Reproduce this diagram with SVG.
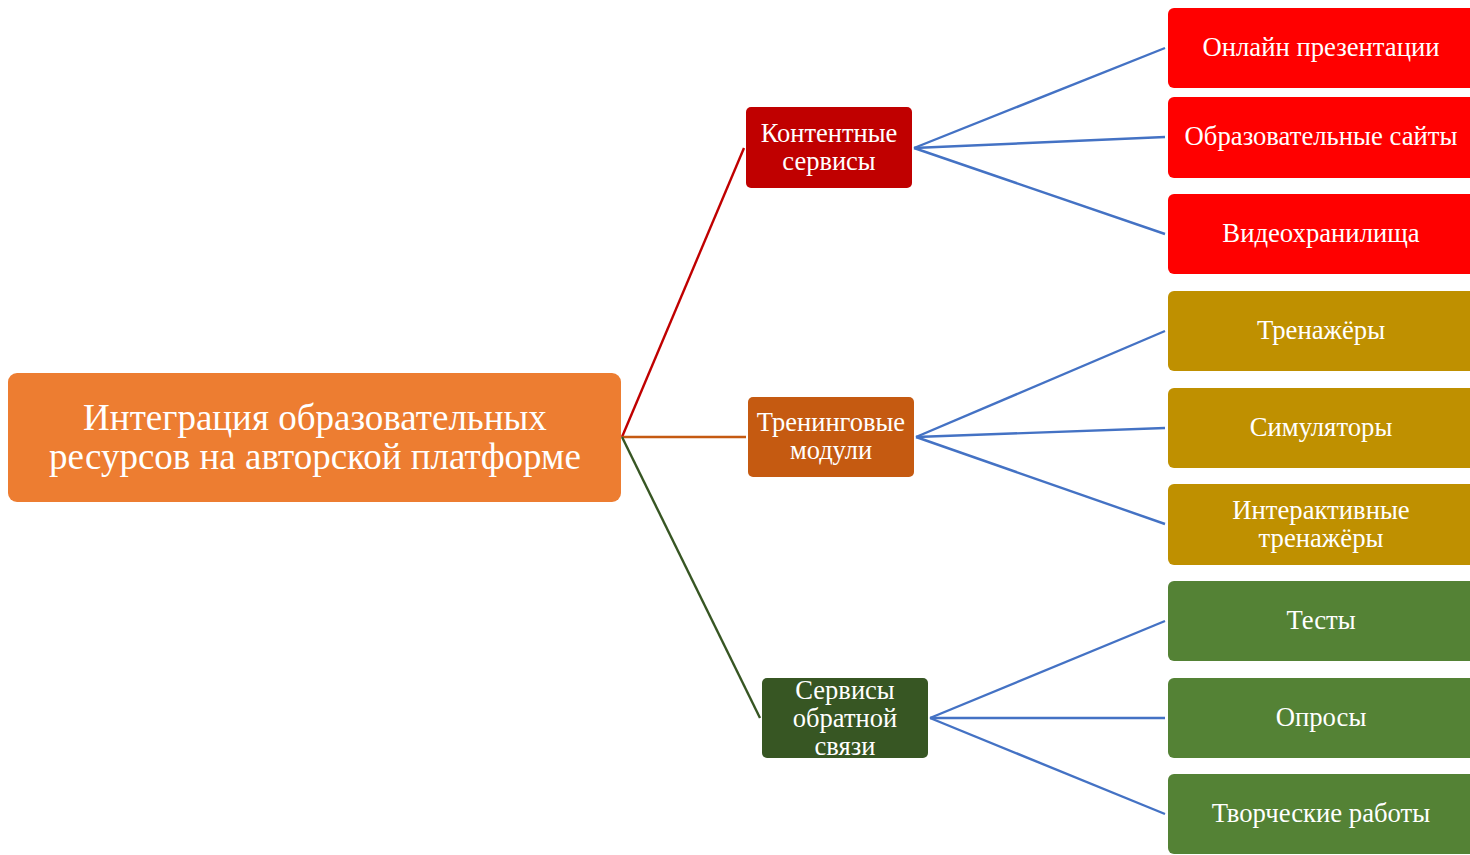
<svg xmlns="http://www.w3.org/2000/svg" width="1470" height="855" viewBox="0 0 1470 855">
<style>
text{font-family:"Liberation Serif","Times New Roman",serif;fill:#fff;text-anchor:middle}
.root{font-size:37px}
.mid{font-size:26.5px}
.leaf{font-size:26.7px}
.blue{stroke:#4472C4;stroke-width:2.4;fill:none}
</style>
<rect width="1470" height="855" fill="#fff"/>
<g id="connectors">
<line x1="622" y1="437" x2="744" y2="148" stroke="#C00000" stroke-width="2.4"/>
<line x1="622" y1="437" x2="746" y2="437" stroke="#C55A11" stroke-width="2.4"/>
<line x1="622" y1="437" x2="760" y2="718" stroke="#375623" stroke-width="2.4"/>
<line class="blue" x1="914" y1="148" x2="1165" y2="48"/>
<line class="blue" x1="914" y1="148" x2="1165" y2="137"/>
<line class="blue" x1="914" y1="148" x2="1165" y2="234"/>
<line class="blue" x1="916" y1="437" x2="1165" y2="331"/>
<line class="blue" x1="916" y1="437" x2="1165" y2="428"/>
<line class="blue" x1="916" y1="437" x2="1165" y2="524"/>
<line class="blue" x1="930" y1="718" x2="1165" y2="621"/>
<line class="blue" x1="930" y1="718" x2="1165" y2="718"/>
<line class="blue" x1="930" y1="718" x2="1165" y2="814"/>
</g>
<g id="root">
<rect x="8" y="373" width="613" height="129" rx="9" fill="#ED7D31"/>
<text class="root" x="315" y="430">Интеграция образовательных</text>
<text class="root" x="315" y="469">ресурсов на авторской платформе</text>
</g>
<g id="content">
<rect x="746" y="107" width="166" height="81" rx="5" fill="#C00000"/>
<text class="mid" x="829" y="142">Контентные</text>
<text class="mid" x="829" y="170">сервисы</text>
</g>
<g id="training">
<rect x="748" y="397" width="166" height="80" rx="5" fill="#C55A11"/>
<text class="mid" x="831" y="431">Тренинговые</text>
<text class="mid" x="831" y="459">модули</text>
</g>
<g id="feedback">
<rect x="762" y="678" width="166" height="80" rx="5" fill="#375623"/>
<text class="mid" x="845" y="699">Сервисы</text>
<text class="mid" x="845" y="727">обратной</text>
<text class="mid" x="845" y="755">связи</text>
</g>
<g id="leaf1"><rect x="1168" y="8" width="320" height="80" rx="6" fill="#FF0000"/><text class="leaf" x="1321" y="56">Онлайн презентации</text></g>
<g id="leaf2"><rect x="1168" y="97" width="320" height="81" rx="6" fill="#FF0000"/><text class="leaf" x="1321" y="145">Образовательные сайты</text></g>
<g id="leaf3"><rect x="1168" y="194" width="320" height="80" rx="6" fill="#FF0000"/><text class="leaf" x="1321" y="242">Видеохранилища</text></g>
<g id="leaf4"><rect x="1168" y="291" width="320" height="80" rx="6" fill="#BF9000"/><text class="leaf" x="1321" y="339">Тренажёры</text></g>
<g id="leaf5"><rect x="1168" y="388" width="320" height="80" rx="6" fill="#BF9000"/><text class="leaf" x="1321" y="436">Симуляторы</text></g>
<g id="leaf6"><rect x="1168" y="484" width="320" height="81" rx="6" fill="#BF9000"/><text class="leaf" x="1321" y="519">Интерактивные</text><text class="leaf" x="1321" y="547">тренажёры</text></g>
<g id="leaf7"><rect x="1168" y="581" width="320" height="80" rx="6" fill="#548235"/><text class="leaf" x="1321" y="629">Тесты</text></g>
<g id="leaf8"><rect x="1168" y="678" width="320" height="80" rx="6" fill="#548235"/><text class="leaf" x="1321" y="726">Опросы</text></g>
<g id="leaf9"><rect x="1168" y="774" width="320" height="80" rx="6" fill="#548235"/><text class="leaf" x="1321" y="822">Творческие работы</text></g>
</svg>
